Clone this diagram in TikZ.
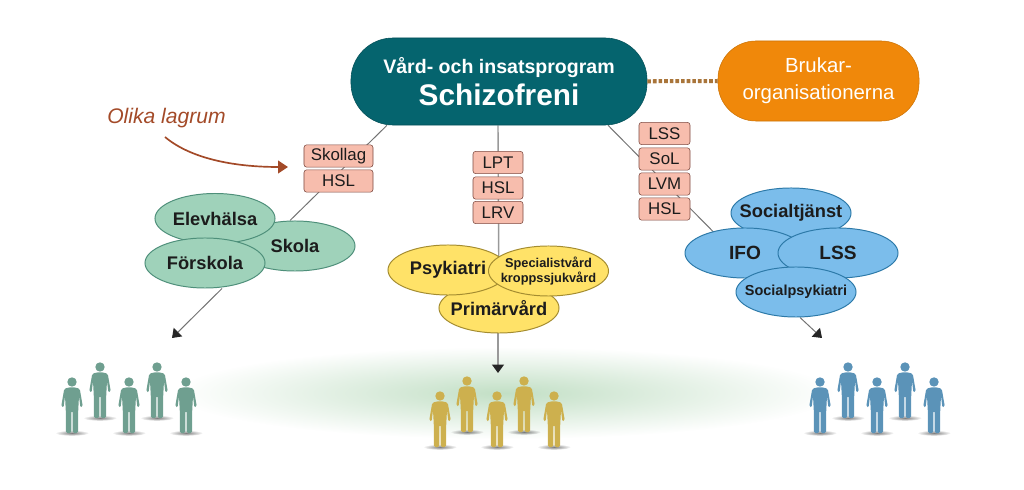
\documentclass[tikz,border=0pt]{standalone}
\usepackage{fontspec}
\setmainfont{Liberation Sans}
\usetikzlibrary{arrows.meta, shapes.geometric, calc, backgrounds, fadings}

\definecolor{tealmain}{HTML}{05646E}
\definecolor{orangeorg}{HTML}{F0880A}
\definecolor{dotline}{HTML}{A9753A}
\definecolor{lawfill}{HTML}{F7BDAD}
\definecolor{lawline}{HTML}{7D4A40}
\definecolor{greenfill}{HTML}{9FD2BA}
\definecolor{greenline}{HTML}{4E8F7A}
\definecolor{greenman}{HTML}{6F9F90}
\definecolor{yellowfill}{HTML}{FFE268}
\definecolor{yellowline}{HTML}{A48C30}
\definecolor{yellowman}{HTML}{CDB04E}
\definecolor{bluefill}{HTML}{7BBDEB}
\definecolor{blueline}{HTML}{2C79A8}
\definecolor{blueman}{HTML}{5B93B8}
\definecolor{lagrum}{HTML}{A34A28}
\definecolor{inktext}{HTML}{1C1C1C}
\definecolor{glowgreen}{HTML}{C2DFC5}

\tikzfading[name=softedge, inner color=transparent!0, outer color=transparent!100]

\begin{document}
\begin{tikzpicture}[
    x=0.025cm, y=-0.025cm,
    conn/.style={draw=black!55, line width=0.7pt},
    tiparrow/.style={-{Triangle[width=8.5pt,length=6pt,black!85]}},
    lawbox/.style={draw=lawline, fill=lawfill, rounded corners=2pt, inner sep=0pt,
                   minimum height=0.56cm, text=inktext, font=\fontsize{12}{14}\selectfont},
    blob/.style={ellipse, draw, line width=0.7pt, inner sep=-12pt, minimum width=3cm,
                 minimum height=1.25cm, align=center, text=inktext,
                 font=\fontsize{13}{15}\selectfont\bfseries},
    greenblob/.style={blob, draw=greenline, fill=greenfill},
    yellowblob/.style={blob, draw=yellowline, fill=yellowfill},
    blueblob/.style={blob, draw=blueline, fill=bluefill},
    personfig/.pic={
      \fill[black, opacity=0.5, path fading=softedge] (0,0) ellipse (17 and 2.8);
      \fill[pic actions] (0,-51) circle (4.7);
      \fill[pic actions, rounded corners=1pt] (-4,-45.5) -- (-7.8,-44) -- (-10.8,-26.5)
        -- (-8.4,-25.5) -- (-7,-37) -- (-6.2,-22) -- (-6,0) -- (-0.7,0) -- (-0.7,-22)
        -- (0.7,-22) -- (0.7,0) -- (6,0) -- (6.2,-22) -- (7,-37) -- (8.4,-25.5)
        -- (10.8,-26.5) -- (7.8,-44) -- (4,-45.5) -- cycle;
    }
  ]
  \useasboundingbox (0,0) rectangle (1024,490);

  % Top row
  \node[draw=tealmain!80!black, fill=tealmain, rounded corners=1.05cm, minimum width=7.4cm,
        minimum height=2.175cm, align=center, text=white] (main) at (499,81.5)
    {\fontsize{13.9}{17}\selectfont\bfseries Vård- och insatsprogram\\[3pt]
     \fontsize{21.2}{25}\selectfont\bfseries Schizofreni};
  \node[draw=orangeorg!85!black, fill=orangeorg, rounded corners=0.95cm, minimum width=5.025cm,
        minimum height=2cm, align=center, text=white, font=\fontsize{14.5}{19}\selectfont]
    (brukar) at (818.5,81) {Brukar-\\organisationerna};
  \draw[draw=dotline, line width=2.85pt, dash pattern=on 2.6pt off 1.4pt] (main) -- (brukar);

  % Note about the laws
  \node[text=lagrum, font=\fontsize{15}{18}\selectfont\itshape] (olika) at (166.5,118) {Olika lagrum};
  \coordinate (noteStart) at (165,137);
  \coordinate (noteEnd) at (288,167);
  \draw[-{Triangle[width=9pt,length=7pt]}, draw=lagrum, line width=1.2pt]
    (noteStart) .. controls (190,158) and (232,167) .. (noteEnd);

  % Law boxes
  \node[lawbox, minimum width=1.725cm] (skollag) at (338.5,156) {Skollag};
  \node[lawbox, minimum width=1.725cm] (hslL) at (338.5,181) {HSL};

  \node[lawbox, minimum width=1.25cm] (lpt) at (498,162.5) {LPT};
  \node[lawbox, minimum width=1.25cm] (hslM) at (498,188) {HSL};
  \node[lawbox, minimum width=1.25cm] (lrv) at (498,212.5) {LRV};

  \node[lawbox, minimum width=1.275cm] (lss) at (664.5,133.5) {LSS};
  \node[lawbox, minimum width=1.275cm] (sol) at (664.5,159) {SoL};
  \node[lawbox, minimum width=1.275cm] (lvm) at (664.5,184) {LVM};
  \node[lawbox, minimum width=1.275cm] (hslR) at (664.5,209) {HSL};

  % Left group
  \node[greenblob] (skola) at (295,246) {Skola};
  \node[greenblob] (elevhalsa) at (215,218.5) {Elevhälsa};
  \node[greenblob] (forskola) at (205,263) {Förskola};

  % Middle group
  \node[yellowblob] (primarvard) at (499,308) {Primärvård};
  \node[yellowblob] (psykiatri) at (448,270) {Psykiatri};
  \node[yellowblob, font=\fontsize{9.1}{10.5}\selectfont\bfseries] (special) at (548.5,271)
    {Specialistvård\\kroppssjukvård};

  % Right group
  \node[blueblob] (socialtjanst) at (791,213) {Socialtjänst};
  \node[blueblob, font=\fontsize{13.6}{15}\selectfont\bfseries] (ifo) at (745,253) {IFO};
  \node[blueblob, font=\fontsize{13.6}{15}\selectfont\bfseries] (lssR) at (838,253) {LSS};
  \node[blueblob, font=\fontsize{10.3}{12}\selectfont\bfseries] (socialpsyk) at (796,292) {Socialpsykiatri};

  % Free ends of the arrows
  \coordinate (endL) at (172,338);
  \coordinate (endM) at (498,373);
  \coordinate (endR) at (822,338);

  \begin{pgfonlayer}{background}
    \fill[glowgreen, path fading=softedge] (505,393) ellipse (330 and 46);
    \draw[conn] ($(main.south)+(-112,0)$) -- ($(skola.north)+(-5,0)$);
    \draw[conn, draw=black!40, line width=1pt] ($(main.south)+(-1,0)$) -- (primarvard);
    \draw[conn] ($(main.south)+(109,0)$) -- ($(ifo.north)+(-31,5)$);
    \draw[conn, tiparrow] ($(forskola.south)+(17,0)$) -- (endL);
    \draw[conn, draw=black!40, line width=1pt, tiparrow] ($(primarvard.south)+(-1,0)$) -- (endM);
    \draw[conn, tiparrow] ($(socialpsyk.south)+(4,0)$) -- (endR);
  \end{pgfonlayer}

  % People
  \foreach \px/\py in {72/433, 100/418, 129/433, 157/418, 186/433}
    \pic[fill=greenman] at (\px,\py) {personfig};
  \foreach \px/\py in {440/447, 467/432, 497/447, 524/432, 554/447}
    \pic[fill=yellowman] at (\px,\py) {personfig};
  \foreach \px/\py in {820/433, 848/418, 877/433, 905/418, 934/433}
    \pic[fill=blueman] at (\px,\py) {personfig};
\end{tikzpicture}
\end{document}
